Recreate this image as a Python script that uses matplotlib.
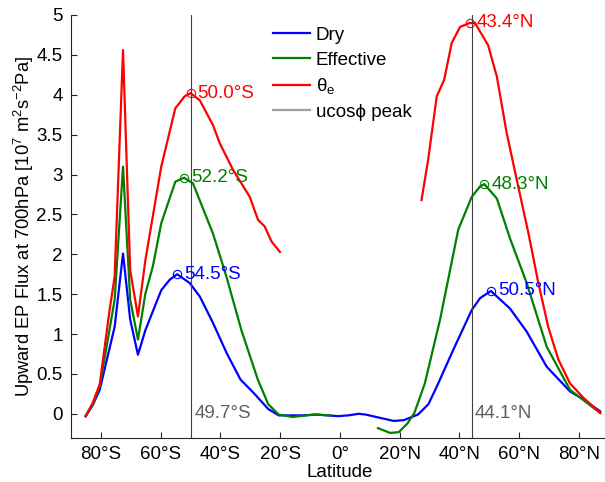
import numpy as np
import matplotlib
matplotlib.use('Agg')
import matplotlib.pyplot as plt
from matplotlib.lines import Line2D
from matplotlib.ticker import FormatStrFormatter

plt.rcParams['font.family'] = ['Liberation Sans', 'DejaVu Sans']
plt.rcParams['mathtext.fontset'] = 'custom'
plt.rcParams['mathtext.rm'] = 'Liberation Sans'
plt.rcParams['mathtext.it'] = 'Liberation Sans'

# upward EP flux at 700 hPa, units of 1e7 m^2 s^-2 Pa
lat_dry = [-85.1, -82.7, -80.4, -75.4, -72.6, -70.2, -67.6, -65.1, -59.8, -57.0, -54.5,
           -50.3, -46.9, -42.5, -37.9, -33.3, -28.6, -24.0, -20.5, -12.3, -7.7, -0.7,
           2.8, 6.3, 8.6, 18.0, 21.4, 26.1, 29.6, 32.4, 37.9, 44.1, 46.9, 50.5, 56.9,
           62.5, 69.2, 77.0, 81.5, 87.1]
dry = [-0.03, 0.11, 0.30, 1.09, 2.01, 1.18, 0.74, 1.05, 1.55, 1.68, 1.75,
       1.64, 1.47, 1.14, 0.76, 0.43, 0.25, 0.06, -0.02, -0.02, -0.01, -0.03,
       -0.02, 0.00, -0.01, -0.09, -0.08, -0.01, 0.12, 0.34, 0.80, 1.30, 1.45, 1.54, 1.32,
       1.03, 0.59, 0.28, 0.18, 0.03]

lat_eff = [-85.1, -82.7, -80.4, -75.4, -72.6, -70.2, -67.6, -65.1, -62.6, -59.8, -55.1,
           -52.2, -49.2, -42.5, -38.0, -33.0, -27.5, -24.0, -20.5, -15.8, -8.8, -3.0,
           np.nan, 12.7, 16.8, 19.7, 22.6, 24.9, 28.4, 33.5, 39.6, 44.1, 46.9, 48.3,
           52.5, 56.9, 62.5, 69.2, 77.0, 87.1]
eff = [-0.03, 0.12, 0.34, 1.43, 3.10, 1.43, 0.93, 1.51, 1.85, 2.39, 2.91,
       2.96, 2.89, 2.26, 1.72, 1.05, 0.43, 0.12, -0.01, -0.04, -0.01, -0.02,
       np.nan, -0.18, -0.24, -0.23, -0.12, 0.01, 0.38, 1.18, 2.31, 2.72, 2.85, 2.88,
       2.70, 2.20, 1.64, 0.84, 0.30, 0.01]

lat_the = [-85.1, -82.7, -80.4, -77.1, -75.4, -72.6, -70.2, -67.6, -65.1, -59.8, -55.1,
           -52.0, -50.0, -46.9, -42.5, -40.2, -35.8, -30.2, -27.4, -25.2, -22.9, -20.1,
           np.nan, 27.3, 29.5, 32.4, 34.9, 37.4, 40.2, 43.4, 45.2, 49.6, 52.5, 55.8,
           59.2, 63.1, 66.4, 69.7, 73.1, 77.0, 81.5, 87.1]
the = [-0.03, 0.14, 0.37, 1.30, 1.72, 4.56, 1.80, 1.22, 1.93, 3.10, 3.83,
       3.98, 4.02, 3.93, 3.62, 3.39, 3.06, 2.72, 2.43, 2.35, 2.16, 2.03,
       np.nan, 2.68, 3.18, 3.98, 4.19, 4.65, 4.85, 4.90, 4.90, 4.62, 4.23, 3.52,
       2.93, 2.26, 1.64, 1.09, 0.68, 0.38, 0.20, 0.01]

# peak latitudes of each curve (SH, NH)
peak_lat = {'dry': [-54.5, 50.5], 'eff': [-52.2, 48.3], 'the': [-50.0, 43.4]}
peak_val = {'dry': [1.75, 1.54], 'eff': [2.96, 2.88], 'the': [4.02, 4.90]}

# latitude of the ucos(phi) maximum
ucos_peak = [-49.7, 44.1]

xticks = [-80, -60, -40, -20, 0, 20, 40, 60, 80]
xticklabels = ['80°S', '60°S', '40°S', '20°S', '0°', '20°N', '40°N', '60°N', '80°N']


def lat_str(v):
    return f'{abs(v):.1f}°{"S" if v < 0 else "N"}'


fig = plt.figure(figsize=(6.05, 4.82), dpi=100)
ax = fig.add_axes([0.1174, 0.0919, 0.889, 0.877])

colors = {'dry': '#0000ff', 'eff': '#008000', 'the': '#ff0000'}
ax.plot(lat_dry, dry, color=colors['dry'], lw=1.6)
ax.plot(lat_eff, eff, color=colors['eff'], lw=1.6)
ax.plot(lat_the, the, color=colors['the'], lw=1.6)

for key in ['dry', 'eff', 'the']:
    ax.plot(peak_lat[key], peak_val[key], 'o', mfc='none', mec=colors[key], ms=6, mew=0.8)
    for la, va in zip(peak_lat[key], peak_val[key]):
        ax.annotate(lat_str(la), (la, va), xytext=(5, 0), textcoords='offset points',
                    ha='left', va='center', color=colors[key], fontsize=13.5)

for la in ucos_peak:
    ax.axvline(la, color='#404040', lw=0.8)
    ax.annotate(lat_str(la), (la, 0), xytext=(2, 0), textcoords='offset points',
                ha='left', va='center', color='#606060', fontsize=13.5)

ax.set_xlim(-90, 90)
ax.set_ylim(-0.3, 5)
ax.set_xticks(xticks)
ax.set_xticklabels(xticklabels)
ax.set_yticks(np.arange(0, 5.01, 0.5))
ax.yaxis.set_major_formatter(FormatStrFormatter('%g'))
ax.tick_params(direction='in', length=4, width=0.8, labelsize=13.5, colors='#262626',
               labelcolor='black', pad=6)
ax.spines['top'].set_visible(False)
ax.spines['right'].set_visible(False)
for s in ['left', 'bottom']:
    ax.spines[s].set_color('#262626')
    ax.spines[s].set_linewidth(0.8)

ax.set_xlabel('Latitude', fontsize=13.5, labelpad=1)
ax.set_ylabel('Upward EP Flux at 700hPa [10$^7$ m$^2$s$^{-2}$Pa]', fontsize=13.2)
ax.yaxis.set_label_coords(-0.066, 0.5)

handles = [Line2D([], [], color=colors['dry'], lw=1.6),
           Line2D([], [], color=colors['eff'], lw=1.6),
           Line2D([], [], color=colors['the'], lw=1.6),
           Line2D([], [], color='#a0a0a0', lw=1.6)]
labels = ['Dry', 'Effective', r'$\theta_e$', 'ucosϕ peak']
ax.legend(handles, labels, loc='upper left', bbox_to_anchor=(0.375, 0.972), frameon=False,
          fontsize=13.5, handlelength=2.0, handletextpad=0.3, labelspacing=0.4,
          borderpad=0, borderaxespad=0)

fig.savefig('out.png', dpi=100)
